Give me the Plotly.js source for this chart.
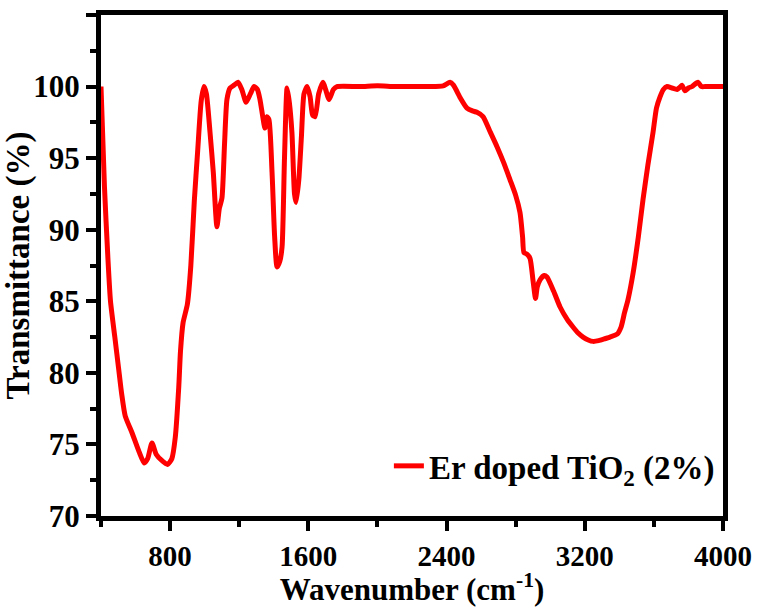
<!DOCTYPE html>
<html>
<head>
<meta charset="utf-8">
<script src="https://cdn.plot.ly/plotly-3.0.1.min.js"></script>
<style>html,body{margin:0;padding:0;background:#fff;}#chart{width:759px;height:607px;}</style>
</head>
<body>
<div id="chart"></div>
<script>
const wavenumber = [400,420,440,455,480,500,520,540,580,620,650,670,695,720,750,785,810,830,850,860,875,900,920,940,960,980,996,1010,1031,1050,1071,1085,1100,1115,1129,1147,1170,1193,1215,1240,1265,1286,1305,1320,1349,1360,1372,1390,1405,1419,1435,1448,1462,1477,1490,1505,1520,1529,1545,1560,1575,1593,1610,1625,1639,1660,1685,1700,1720,1745,1766,1900,2000,2100,2200,2300,2380,2420,2440,2480,2518,2550,2576,2611,2650,2692,2730,2767,2800,2825,2840,2848,2865,2883,2900,2915,2925,2941,2965,2981,3020,3057,3100,3132,3160,3190,3220,3248,3280,3320,3346,3387,3410,3430,3450,3480,3510,3537,3565,3595,3615,3636,3655,3676,3705,3734,3750,3763,3780,3800,3820,3855,3875,3896,3950,4000];
const transmittance = [100,93,88,85,82.5,80.5,78.5,77,75.8,74.5,73.7,74.0,75.1,74.3,73.9,73.6,74.0,75.5,79,81.5,83.5,84.8,87.5,92,95.6,99,100,99.5,96.8,94,90.2,91.5,92.2,96,99.1,99.9,100.1,100.3,99.8,98.9,99.5,100.0,99.8,99.1,97.1,97.9,97.7,94,89.5,87.4,87.8,88.8,95,99.9,98.9,96.8,92.5,91.9,93.5,96.5,99.5,100.0,99.3,98.0,97.9,99.5,100.3,99.8,99.1,99.8,100.0,100.0,100.05,100.0,100.0,100.0,100.05,100.3,100.1,99.2,98.5,98.3,98.2,97.9,96.9,95.8,94.7,93.5,92.4,91.2,89.5,88.4,88.3,88.0,86.5,85.2,86.0,86.5,86.8,86.7,85.7,84.6,83.7,83.2,82.8,82.5,82.3,82.2,82.25,82.4,82.5,82.7,83.2,84.2,85.1,87,89.5,92.1,94.5,96.8,98.5,99.3,99.8,100.0,99.9,99.8,99.95,100.1,99.7,99.9,100.0,100.3,100.0,100.0,100.0,100.0];
const seriesName = 'Er doped TiO<sub>2</sub> (2%)';
const xTickVals = [800,1600,2400,3200,4000];
const yTickVals = [70,75,80,85,90,95,100,105];

const fontFamily = '"Liberation Serif", "Times New Roman", serif';
const trace = {
  x: wavenumber, y: transmittance, type: 'scatter', mode: 'lines', name: seriesName,
  line: {color: '#ff0000', width: 5, shape: 'spline', smoothing: 0.6}
};
const axisCommon = {
  showline: true, linecolor: '#000', linewidth: 5, mirror: true,
  ticks: 'outside', ticklen: 10, tickwidth: 4, tickcolor: '#000',
  showgrid: false, zeroline: false,
  tickfont: {family: fontFamily, size: 31, color: '#000', weight: 'bold'}
};
const layout = {
  width: 759, height: 607,
  margin: {l: 101, r: 36, t: 15, b: 91},
  paper_bgcolor: '#fff', plot_bgcolor: '#fff',
  font: {family: fontFamily, color: '#000'},
  showlegend: true,
  legend: {x: 0.995, xanchor: 'right', y: 0.1, yanchor: 'middle', bgcolor: 'rgba(0,0,0,0)',
           font: {family: fontFamily, size: 33, color: '#000', weight: 'bold'}},
  xaxis: Object.assign({}, axisCommon, {
    range: [400, 4000], tickvals: xTickVals, ticktext: xTickVals.map(String),
    tickfont: {family: fontFamily, size: 29, color: '#000', weight: 'bold'},
    minor: {dtick: 400, tick0: 400, ticklen: 6, tickwidth: 4, tickcolor: '#000', ticks: 'outside'},
    title: {text: 'Wavenumber (cm<sup>-1</sup>)', font: {family: fontFamily, size: 31, color: '#000', weight: 'bold'}}
  }),
  yaxis: Object.assign({}, axisCommon, {
    range: [70, 105], tickvals: yTickVals, ticktext: yTickVals.map(String),
    minor: {dtick: 2.5, tick0: 70, ticklen: 6, tickwidth: 4, tickcolor: '#000', ticks: 'outside'},
    title: {text: 'Transmittance (%)', standoff: 4, font: {family: fontFamily, size: 33, color: '#000', weight: 'bold'}}
  })
};
Plotly.newPlot('chart', [trace], layout, {displayModeBar: false, staticPlot: true});
</script>
</body>
</html>
